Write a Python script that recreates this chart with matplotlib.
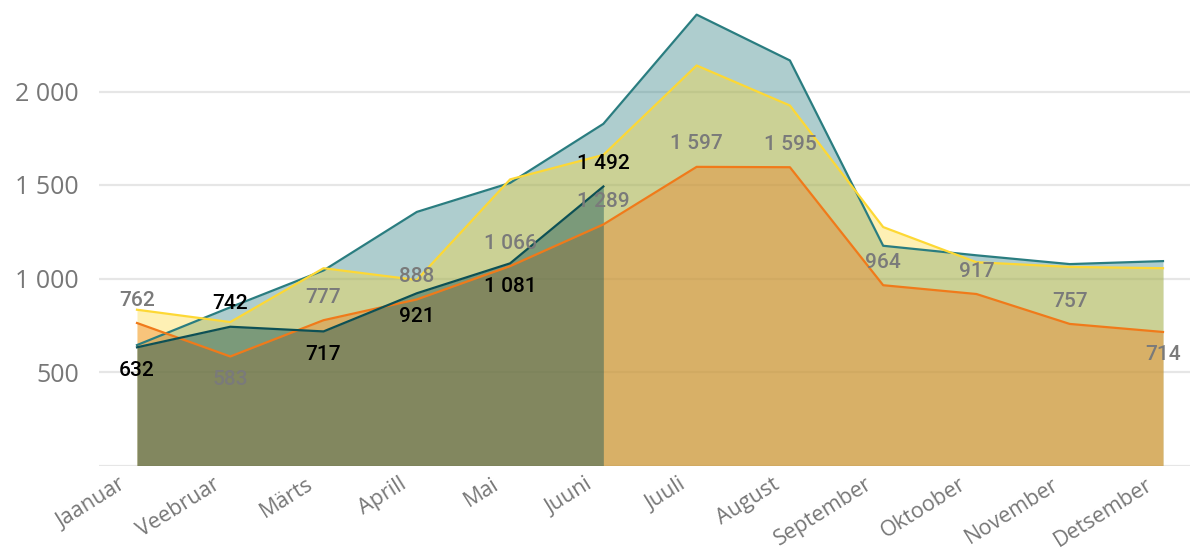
import numpy as np
import matplotlib
matplotlib.use('Agg')
import matplotlib.pyplot as plt

months = ['Jaanuar', 'Veebruar', 'Märts', 'Aprill', 'Mai', 'Juuni',
          'Juuli', 'August', 'September', 'Oktoober', 'November', 'Detsember']

# four series
teal   = [644, 846, 1043, 1356, 1511, 1827, 2411, 2166, 1175, 1124, 1077, 1093]
yellow = [833, 767, 1055, 992, 1530, 1661, 2139, 1925, 1275, 1087, 1062, 1055]
orange = [762, 583, 777, 888, 1066, 1289, 1597, 1595, 964, 917, 757, 714]
dgreen = [632, 742, 717, 921, 1081, 1492]

yticks = [0, 500, 1000, 1500, 2000]
ytick_labels = ['', '500', '1 000', '1 500', '2 000']

# label placement: +1 above the point, -1 below
orange_pos = [1, -1, 1, 1, 1, 1, 1, 1, 1, 1, 1, -1]
dgreen_pos = [-1, 1, -1, -1, -1, 1]


def fmt(v):
    return '{:,}'.format(v).replace(',', ' ')


def main():
    fig = plt.figure(figsize=(11.9, 5.52), dpi=100)
    ax = fig.add_axes([99/1190, 86.5/552, 1091/1190, 465.5/552])

    x = np.arange(len(months))
    xg = np.arange(len(dgreen))

    series = [
        (teal, x, '#2A7D80', 0.38),
        (yellow, x, '#FDD835', 0.37),
        (orange, x, '#F07A1A', 0.37),
        (dgreen, xg, '#0D5055', 0.42),
    ]
    for vals, xs, c, a in series:
        ax.fill_between(xs, 0, vals, color=c, alpha=a, lw=0, zorder=2)
    for vals, xs, c, a in series:
        ax.plot(xs, vals, color=c, lw=1.6, zorder=3)

    for i, v in enumerate(orange):
        ax.annotate(fmt(v), (x[i], v), xytext=(0, 16.5 * orange_pos[i]),
                    textcoords='offset points', ha='center', va='center',
                    fontsize=15, color='#7a7a7a', family='Roboto',
                    fontweight='medium', zorder=5)
    for i, v in enumerate(dgreen):
        ax.annotate(fmt(v), (xg[i], v), xytext=(0, 16.5 * dgreen_pos[i]),
                    textcoords='offset points', ha='center', va='center',
                    fontsize=15, color='black', family='Roboto',
                    fontweight='medium', zorder=5)

    ax.set_xlim(-38/93.27, 11 + 27/93.27)
    ax.set_ylim(0, 465.5/0.187)
    ax.set_yticks(yticks)
    ax.set_yticklabels(ytick_labels, fontsize=18, color='#777777', family='Open Sans')
    ax.set_xticks(x)
    ax.set_xticklabels([])
    # month names, placed a bit left of the tick like in the original
    for i, m in enumerate(months):
        ax.annotate(m, (x[i], 0), xycoords=('data', 'axes fraction'),
                    xytext=(-13, -6), textcoords='offset points',
                    fontsize=15.5, color='#777777', family='Open Sans',
                    rotation=32, ha='right', va='top', rotation_mode='anchor',
                    annotation_clip=False)
    ax.tick_params(length=0, axis='y', pad=14.4)
    ax.tick_params(length=0, axis='x')
    ax.grid(axis='y', color='#E6E6E6', lw=1.6, zorder=1)
    for s in ax.spines.values():
        s.set_visible(False)
    ax.set_axisbelow(True)

    fig.savefig('out.png', dpi=100)


if __name__ == "__main__":
    main()
